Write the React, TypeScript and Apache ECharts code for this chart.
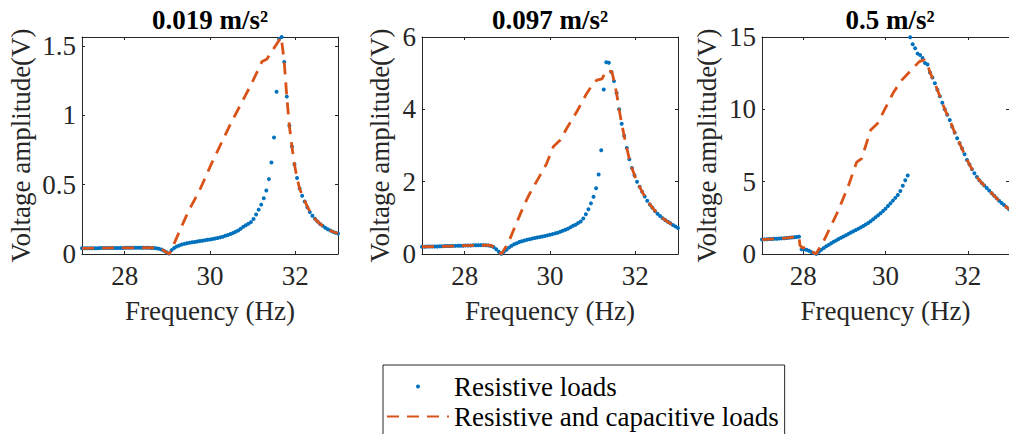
import React, { useEffect, useRef } from "react";
import * as echarts from "echarts";

// ---------- data ----------
const FREQ_HZ = [
  27.0, 27.06, 27.12, 27.18, 27.24, 27.3, 27.36, 27.42, 27.48, 27.54,
  27.6, 27.66, 27.72, 27.78, 27.84, 27.9, 27.96, 28.02, 28.08, 28.14,
  28.2, 28.26, 28.32, 28.38, 28.44, 28.5, 28.56, 28.62, 28.68, 28.74,
  28.8, 28.86, 28.92, 28.98, 29.04, 29.1, 29.16, 29.22, 29.28, 29.34,
  29.4, 29.46, 29.52, 29.58, 29.64, 29.7, 29.76, 29.82, 29.88, 29.94,
  30.0, 30.06, 30.12, 30.18, 30.24, 30.3, 30.36, 30.42, 30.48, 30.54,
  30.6, 30.66, 30.72, 30.78, 30.84, 30.9, 30.96, 31.02, 31.08, 31.14,
  31.2, 31.26, 31.32, 31.38, 31.44, 31.5, 31.56, 31.62, 31.68, 31.74,
  31.8, 31.86, 31.92, 31.98, 32.04, 32.1, 32.16, 32.22, 32.28, 32.34,
  32.4, 32.46, 32.52, 32.58, 32.64, 32.7, 32.76, 32.82, 32.88, 32.94,
  33.0,
];

const RESISTIVE_019 = [
  0.041, 0.041, 0.041, 0.042, 0.042, 0.042, 0.042, 0.043, 0.043, 0.043,
  0.043, 0.043, 0.044, 0.044, 0.044, 0.044, 0.044, 0.045, 0.045, 0.045,
  0.045, 0.045, 0.045, 0.045, 0.045, 0.045, 0.045, 0.044, 0.043, 0.041,
  0.038, 0.032, 0.024, 0.013, 0.003, 0.028, 0.044, 0.054, 0.062, 0.068,
  0.073, 0.077, 0.081, 0.084, 0.087, 0.09, 0.093, 0.096, 0.099, 0.102,
  0.105, 0.108, 0.112, 0.116, 0.12, 0.125, 0.131, 0.137, 0.144, 0.152,
  0.16, 0.17, 0.182, 0.196, 0.207, 0.218, 0.23, 0.252, 0.285, 0.32,
  0.356, 0.402, 0.458, 0.54, 0.66, 0.84, 1.17, 1.55, 1.565, 1.384,
  1.135, 0.925, 0.775, 0.645, 0.548, 0.472, 0.42, 0.378, 0.337, 0.302,
  0.276, 0.254, 0.234, 0.217, 0.203, 0.19, 0.179, 0.169, 0.161, 0.154,
  0.148,
];

const RESISTIVE_097 = [
  0.2, 0.2, 0.205, 0.205, 0.21, 0.21, 0.21, 0.215, 0.215, 0.22,
  0.22, 0.22, 0.225, 0.225, 0.23, 0.23, 0.23, 0.235, 0.235, 0.235,
  0.24, 0.24, 0.24, 0.245, 0.245, 0.24, 0.235, 0.22, 0.19, 0.13,
  0.06, 0.005, 0.06, 0.12, 0.18, 0.23, 0.27, 0.3, 0.33, 0.355,
  0.375, 0.395, 0.41, 0.425, 0.44, 0.455, 0.47, 0.485, 0.5, 0.515,
  0.53, 0.55, 0.57, 0.59, 0.615, 0.64, 0.67, 0.7, 0.74, 0.78,
  0.81, 0.855, 0.9, 0.98, 1.1, 1.24, 1.4, 1.58, 1.82, 2.2,
  2.87, 4.55, 5.3, 5.29, 5.03, 4.78, 4.45, 4.0, 3.6, 3.26,
  2.93, 2.62, 2.38, 2.18, 2.0, 1.86, 1.72, 1.59, 1.47, 1.37,
  1.28, 1.19, 1.11, 1.05, 0.99, 0.94, 0.89, 0.85, 0.8, 0.76,
  0.72,
];

const RESISTIVE_05 = [
  1.0, 1.01, 1.02, 1.03, 1.04, 1.05, 1.06, 1.07, 1.08, 1.09,
  1.1, 1.12, 1.14, 1.16, 1.18, 1.2, 0.32, 0.33, 0.3, 0.22,
  0.13, 0.05, 0.01, 0.16, 0.3, 0.42, 0.53, 0.63, 0.74, 0.84,
  0.94, 1.03, 1.12, 1.21, 1.3, 1.39, 1.48, 1.57, 1.66, 1.75,
  1.84, 1.94, 2.04, 2.15, 2.27, 2.4, 2.54, 2.68, 2.82, 2.97,
  3.13, 3.32, 3.5, 3.69, 3.88, 4.08, 4.35, 4.72, 5.1, 5.42,
  14.98, 14.5, 14.22, 13.85, 13.76, 13.55, 13.2, 13.1, 12.55, 12.2,
  11.8, 11.35, 10.9, 10.45, 10.0, 9.62, 9.26, 8.8, 8.4, 8.0,
  7.65, 7.3, 6.9, 6.5, 6.18, 5.86, 5.58, 5.32, 5.1, 4.9,
  4.73, 4.56, 4.38, 4.2, 4.02, 3.85, 3.68, 3.52, 3.38, 3.24,
  3.1,
];

const CAPACITIVE_019: [number, number][] = [
  [27, 0.041], [27.5, 0.043], [28, 0.044], [28.5, 0.045], [28.7, 0.044],
  [28.8, 0.039], [28.9, 0.028], [28.98, 0.013], [29.05, 0],
  [29.49, 0.306], [29.76, 0.462], [30.04, 0.655], [30.47, 0.931],
  [30.98, 1.232], [31.22, 1.389], [31.33, 1.405], [31.67, 1.565],
  [31.74, 1.384], [31.8, 1.135], [31.86, 0.925], [31.92, 0.775],
  [31.98, 0.645], [32.04, 0.548], [32.1, 0.472], [32.2, 0.395],
  [32.3, 0.33], [32.4, 0.276], [32.5, 0.24], [32.6, 0.212],
  [32.7, 0.19], [32.8, 0.172], [32.9, 0.159], [33, 0.148],
];

const CAPACITIVE_097: [number, number][] = [
  [27, 0.2], [27.5, 0.21], [28, 0.23], [28.5, 0.245], [28.62, 0.235],
  [28.7, 0.18], [28.78, 0.08], [28.86, 0], [29.02, 0.3], [29.18, 0.76],
  [29.41, 1.4], [29.53, 1.68], [29.77, 2.18], [29.92, 2.5], [30.08, 2.97],
  [30.24, 3.15], [30.39, 3.47], [30.63, 3.94], [30.86, 4.44], [31.02, 4.72],
  [31.1, 4.81], [31.22, 4.84], [31.32, 5.08], [31.45, 5.04], [31.5, 4.78],
  [31.56, 4.45], [31.62, 4.0], [31.68, 3.6], [31.74, 3.26], [31.8, 2.93],
  [31.86, 2.62], [31.92, 2.38], [31.98, 2.18], [32.04, 2.0], [32.16, 1.72],
  [32.28, 1.47], [32.4, 1.28], [32.52, 1.11], [32.64, 0.99], [32.76, 0.89],
  [32.88, 0.8], [33, 0.72],
];

const CAPACITIVE_05: [number, number][] = [
  [27, 1.0], [27.5, 1.08], [27.9, 1.2], [27.92, 0.62], [27.97, 0.45],
  [28.08, 0.4], [28.18, 0.2], [28.31, 0], [28.5, 0.9], [28.82, 2.8],
  [29.09, 4.65], [29.3, 6.35], [29.42, 6.6], [29.64, 8.57], [29.8, 9.0],
  [30.0, 10.1], [30.2, 11.2], [30.39, 12.0], [30.62, 12.7], [30.82, 13.3],
  [30.94, 13.42], [31.02, 13.1], [31.08, 12.55], [31.2, 11.8], [31.32, 10.9],
  [31.44, 10.0], [31.56, 9.26], [31.68, 8.4], [31.8, 7.65], [31.92, 6.9],
  [32.04, 6.18], [32.16, 5.58], [32.28, 5.1], [32.4, 4.73], [32.52, 4.38],
  [32.64, 4.02], [32.76, 3.68], [32.88, 3.38], [33, 3.1],
];

const PANEL_TITLES = ["0.019 m/s²", "0.097 m/s²", "0.5 m/s²"];
const X_TICKS = [28, 30, 32];
const X_RANGE = [27, 33];
const Y_TICKS = [
  [0, 0.5, 1, 1.5],
  [0, 2, 4, 6],
  [0, 5, 10, 15],
];
const Y_MAX = [1.565, 6, 15];
const X_NAME = "Frequency (Hz)";
const Y_NAME = "Voltage amplitude(V)";
const SERIES_NAMES = ["Resistive loads", "Resistive and capacitive loads"];

const RESISTIVE = [RESISTIVE_019, RESISTIVE_097, RESISTIVE_05];
const CAPACITIVE = [CAPACITIVE_019, CAPACITIVE_097, CAPACITIVE_05];

// ---------- layout / style ----------
const FONT = "Liberation Serif, Times New Roman, serif";
const FS = 27;
const AXIS_COLOR = "#262626";
const BLUE = "#0072BD";
const ORANGE = "#D95319";
const GRID_LEFT = [82, 422, 762];
const GRID_TOP = 37;
const GRID_W = 256;
const GRID_H = 217;
const Y_NAME_GAP = [48, 29, 42];

export default function App() {
  const ref = useRef<HTMLDivElement>(null);

  useEffect(() => {
    document.body.style.margin = "0";
    if (!ref.current) return;
    const chart = echarts.init(ref.current, undefined, { renderer: "svg" });

    const grids: any[] = [];
    const xAxes: any[] = [];
    const yAxes: any[] = [];
    const series: any[] = [];
    const titles: any[] = [];
    const txt = { fontFamily: FONT, fontSize: FS, color: AXIS_COLOR };

    for (let i = 0; i < 3; i++) {
      grids.push({
        left: GRID_LEFT[i],
        top: GRID_TOP,
        width: GRID_W,
        height: GRID_H,
        containLabel: false,
      });
      const lineStyle = { color: AXIS_COLOR, width: 1 };
      xAxes.push({
        type: "value",
        gridIndex: i,
        position: "bottom",
        min: X_RANGE[0],
        max: X_RANGE[1],
        axisLine: { show: true, onZero: false, lineStyle },
        axisTick: { show: true, inside: true, length: 3, customValues: X_TICKS, lineStyle },
        axisLabel: { customValues: X_TICKS, margin: 8, ...txt },
        splitLine: { show: false },
        name: X_NAME,
        nameLocation: "middle",
        nameGap: 43,
        nameTextStyle: { ...txt },
      });
      xAxes.push({
        type: "value",
        gridIndex: i,
        position: "top",
        min: X_RANGE[0],
        max: X_RANGE[1],
        axisLine: { show: true, onZero: false, lineStyle },
        axisTick: { show: true, inside: true, length: 3, customValues: X_TICKS, lineStyle },
        axisLabel: { show: false },
        splitLine: { show: false },
      });
      yAxes.push({
        type: "value",
        gridIndex: i,
        position: "left",
        min: 0,
        max: Y_MAX[i],
        axisLine: { show: true, onZero: false, lineStyle },
        axisTick: { show: true, inside: true, length: 3, customValues: Y_TICKS[i], lineStyle },
        axisLabel: { customValues: Y_TICKS[i], margin: 6, ...txt },
        splitLine: { show: false },
        name: Y_NAME,
        nameLocation: "middle",
        nameGap: Y_NAME_GAP[i],
        nameTextStyle: { ...txt },
      });
      yAxes.push({
        type: "value",
        gridIndex: i,
        position: "right",
        min: 0,
        max: Y_MAX[i],
        axisLine: { show: true, onZero: false, lineStyle },
        axisTick: { show: true, inside: true, length: 3, customValues: Y_TICKS[i], lineStyle },
        axisLabel: { show: false },
        splitLine: { show: false },
      });

      series.push({
        type: "scatter",
        name: SERIES_NAMES[0],
        xAxisIndex: 2 * i,
        yAxisIndex: 2 * i,
        data: FREQ_HZ.map((f, k) => [f, RESISTIVE[i][k]]),
        symbol: "circle",
        symbolSize: 4,
        itemStyle: { color: BLUE, opacity: 1 },
        z: 2,
      });
      series.push({
        type: "line",
        name: SERIES_NAMES[1],
        xAxisIndex: 2 * i,
        yAxisIndex: 2 * i,
        data: CAPACITIVE[i],
        symbol: "none",
        lineStyle: { color: ORANGE, width: 2.8, type: [12, 8] },
        itemStyle: { color: ORANGE },
        z: 3,
      });

      titles.push({
        text: PANEL_TITLES[i],
        left: GRID_LEFT[i] + GRID_W / 2,
        top: 6,
        textAlign: "center",
        padding: 0,
        textStyle: { fontFamily: FONT, fontSize: FS, fontWeight: "bold", color: "#000" },
      });
    }

    chart.setOption({
      animation: false,
      backgroundColor: "#fff",
      textStyle: { fontFamily: FONT },
      title: titles,
      grid: grids,
      xAxis: xAxes,
      yAxis: yAxes,
      series,
      legend: {
        orient: "vertical",
        left: 383,
        top: 365,
        height: 90,
        padding: [8, 6, 10, 3],
        itemGap: 3,
        itemWidth: 62,
        itemHeight: 4,
        borderColor: AXIS_COLOR,
        borderWidth: 1,
        backgroundColor: "#fff",
        selectedMode: false,
        textStyle: { fontFamily: FONT, fontSize: FS, color: "#000" },
        data: [
          { name: SERIES_NAMES[0], icon: "circle" },
          { name: SERIES_NAMES[1], itemStyle: { opacity: 0 } },
        ],
      },
    });

    return () => chart.dispose();
  }, []);

  return <div ref={ref} style={{ width: 1009, height: 434 }} />;
}
